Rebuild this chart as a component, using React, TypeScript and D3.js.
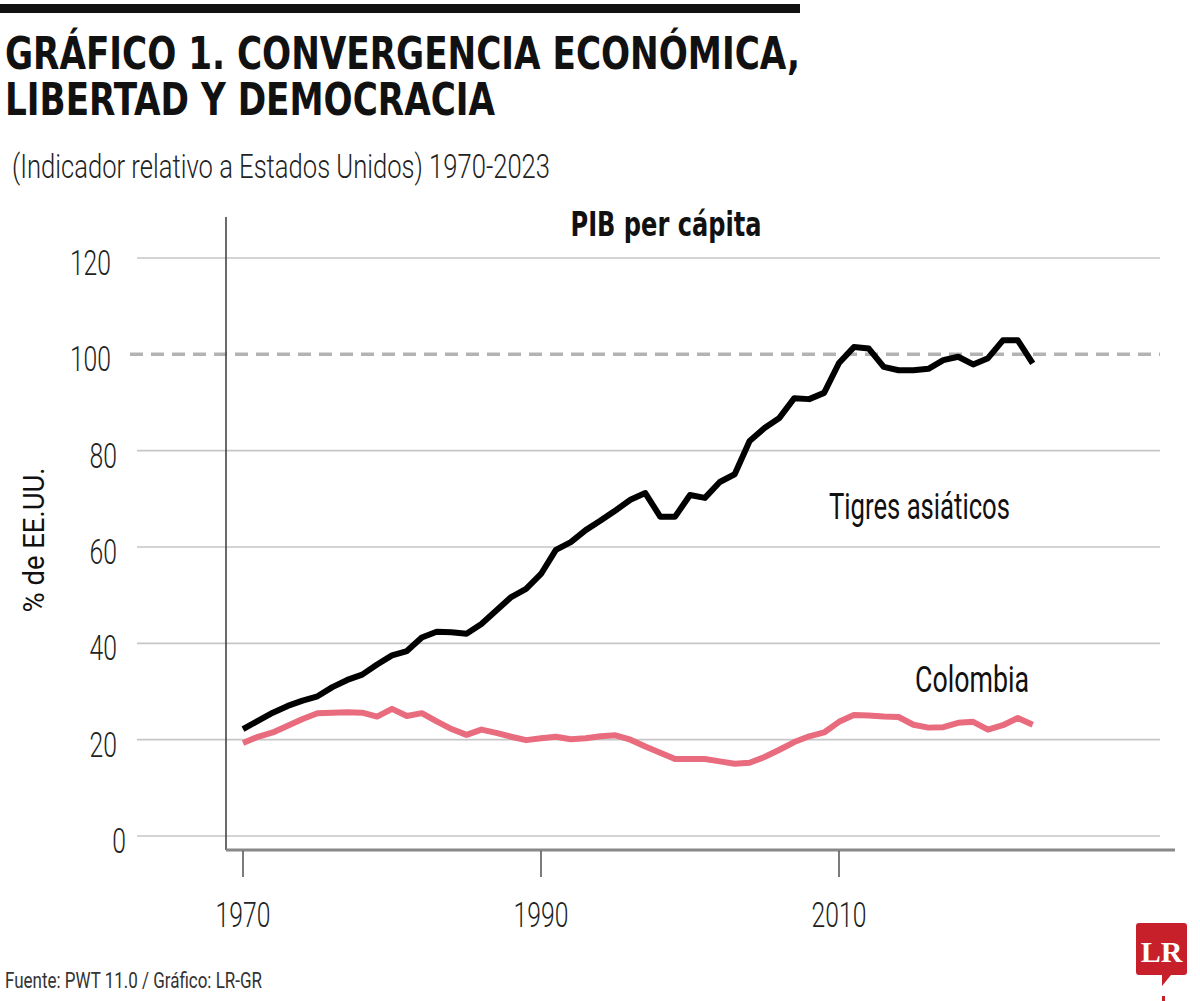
import React from "react";
import * as d3 from "d3";

const years = [
  1970, 1971, 1972, 1973, 1974, 1975, 1976, 1977, 1978, 1979,
  1980, 1981, 1982, 1983, 1984, 1985, 1986, 1987, 1988, 1989,
  1990, 1991, 1992, 1993, 1994, 1995, 1996, 1997, 1998, 1999,
  2000, 2001, 2002, 2003, 2004, 2005, 2006, 2007, 2008, 2009,
  2010, 2011, 2012, 2013, 2014, 2015, 2016, 2017, 2018, 2019,
  2020, 2021, 2022, 2023,
];

const tigres = [
  22.2, 23.9, 25.6, 27.0, 28.1, 29.0, 30.9, 32.4, 33.5, 35.6,
  37.5, 38.4, 41.2, 42.4, 42.3, 42.0, 44.0, 46.8, 49.6, 51.3,
  54.4, 59.4, 61.0, 63.5, 65.5, 67.6, 69.8, 71.2, 66.3, 66.3,
  70.8, 70.2, 73.5, 75.1, 82.0, 84.7, 86.8, 90.9, 90.7, 92.0,
  98.2, 101.5, 101.2, 97.4, 96.7, 96.7, 97.0, 98.8, 99.5, 97.9,
  99.2, 102.9, 102.9, 98.1,
];

const colombia = [
  19.3, 20.6, 21.5, 22.9, 24.3, 25.5, 25.6, 25.7, 25.6, 24.8,
  26.4, 24.9, 25.5, 23.8, 22.2, 21.0, 22.1, 21.4, 20.6, 19.9,
  20.3, 20.6, 20.1, 20.3, 20.7, 20.9, 20.0, 18.6, 17.3, 16.0,
  16.0, 16.0, 15.5, 15.0, 15.2, 16.4, 17.9, 19.5, 20.7, 21.5,
  23.7, 25.1, 25.0, 24.8, 24.7, 23.1, 22.5, 22.6, 23.5, 23.7,
  22.1, 23.0, 24.5, 23.1,
];

const yTicks = [0, 20, 40, 60, 80, 100, 120];
const xTicks = [1970, 1990, 2010];

const title1 = "GRÁFICO 1. CONVERGENCIA ECONÓMICA,";
const title2 = "LIBERTAD Y DEMOCRACIA";
const subtitle = "(Indicador relativo a Estados Unidos) 1970-2023";
const panelTitle = "PIB per cápita";
const yLabel = "% de EE.UU.";
const source = "Fuente: PWT 11.0 / Gráfico: LR-GR";
const seriesNames = ["Tigres asiáticos", "Colombia"];

const BOLD_FONT = "'Liberation Sans Narrow', 'DejaVu Sans Condensed', 'DejaVu Sans', sans-serif";
const FONT = "Roboto, 'Liberation Sans Narrow', 'DejaVu Sans Condensed', sans-serif";

export default function App() {
  const x = d3.scaleLinear().domain([1970, 2010]).range([243, 839]);
  const y = d3.scaleLinear().domain([0, 120]).range([836, 258]);

  const line = d3
    .line<number>()
    .x((_, i) => x(years[i]))
    .y((d) => y(d))
    .curve(d3.curveLinear);

  const digitW = 13.7;

  return (
    <svg
      width={1200}
      height={1001}
      style={{ position: "absolute", left: 0, top: 0, background: "#fff" }}
      fontFamily={FONT}
    >
      <rect x={0} y={0} width={1200} height={1001} fill="#fff" />
      {/* top bar */}
      <rect x={0} y={4} width={800} height={9} fill="#111" />

      {/* titles */}
      <text x={5} y={69} fontSize={44} fontWeight="bold" fontFamily={BOLD_FONT} fill="#111" textLength={795} lengthAdjust="spacingAndGlyphs">
        {title1}
      </text>
      <text x={5} y={115} fontSize={44} fontWeight="bold" fontFamily={BOLD_FONT} fill="#111" textLength={490} lengthAdjust="spacingAndGlyphs">
        {title2}
      </text>
      <text x={12} y={178} fontSize={33} fontWeight={300} fill="#222" textLength={538} lengthAdjust="spacingAndGlyphs">
        {subtitle}
      </text>

      {/* grid */}
      {yTicks.map((t) =>
        t === 100 ? (
          <line
            key={t}
            x1={130}
            x2={1160}
            y1={y(t)}
            y2={y(t)}
            stroke="#b3b3b3"
            strokeWidth={3.5}
            strokeDasharray="13 8"
          />
        ) : (
          <line key={t} x1={137} x2={1160} y1={y(t)} y2={y(t)} stroke="#c6c6c6" strokeWidth={1.6} />
        )
      )}

      {/* y tick labels */}
      {yTicks.map((t) => (
        <text
          key={t}
          x={t === 0 ? 126 : t >= 100 ? 111 : 117}
          y={y(t) + 17}
          fontSize={35}
          fontWeight={300}
          textAnchor="end"
          fill="#222"
          textLength={String(t).length * digitW}
          lengthAdjust="spacingAndGlyphs"
        >
          {t}
        </text>
      ))}

      {/* y axis label */}
      <text
        transform={`translate(44, 540) rotate(-90)`}
        fontSize={29}
        textAnchor="middle"
        fill="#111"
        textLength={145}
        lengthAdjust="spacingAndGlyphs"
      >
        {yLabel}
      </text>

      {/* axes */}
      <line x1={226} x2={226} y1={217} y2={850} stroke="#444" strokeWidth={1.6} />
      <line x1={226} x2={1175} y1={850} y2={850} stroke="#888" strokeWidth={3} />
      {xTicks.map((t) => (
        <g key={t}>
          <line x1={x(t)} x2={x(t)} y1={851} y2={877} stroke="#444" strokeWidth={1.4} />
          <text
            x={x(t)}
            y={927}
            fontSize={35}
            fontWeight={300}
            textAnchor="middle"
            fill="#222"
            textLength={String(t).length * digitW}
            lengthAdjust="spacingAndGlyphs"
          >
            {t}
          </text>
        </g>
      ))}

      {/* panel title */}
      <text x={666} y={236} fontSize={33} fontWeight="bold" fontFamily={BOLD_FONT} textAnchor="middle" fill="#111" textLength={191} lengthAdjust="spacingAndGlyphs">
        {panelTitle}
      </text>

      {/* lines */}
      <path d={line(colombia) || ""} fill="none" stroke="#E96C7E" strokeWidth={6} strokeLinejoin="round" />
      <path d={line(tigres) || ""} fill="none" stroke="#000" strokeWidth={6} strokeLinejoin="round" />

      {/* series labels */}
      <text x={829} y={519} fontSize={36} fill="#111" textLength={181} lengthAdjust="spacingAndGlyphs">
        {seriesNames[0]}
      </text>
      <text x={915} y={692} fontSize={36} fill="#111" textLength={114} lengthAdjust="spacingAndGlyphs">
        {seriesNames[1]}
      </text>

      {/* source */}
      <text x={5} y={988} fontSize={22} fill="#333" textLength={257} lengthAdjust="spacingAndGlyphs">
        {source}
      </text>

      {/* LR logo */}
      <g>
        <path
          d="M1139,923 H1184 Q1187,923 1187,926 V972 Q1187,975 1184,975 H1171 L1162,986 L1162,975 H1139 Q1136,975 1136,972 V926 Q1136,923 1139,923 Z"
          fill="#C8202B"
        />
        <text x={1161.5} y={962} fontSize={30} fontWeight="bold" fontFamily="'Liberation Serif', 'DejaVu Serif', serif" textAnchor="middle" fill="#fff">
          LR
        </text>
        <rect x={1162} y={996} width={3} height={5} fill="#C8202B" />
      </g>
    </svg>
  );
}
